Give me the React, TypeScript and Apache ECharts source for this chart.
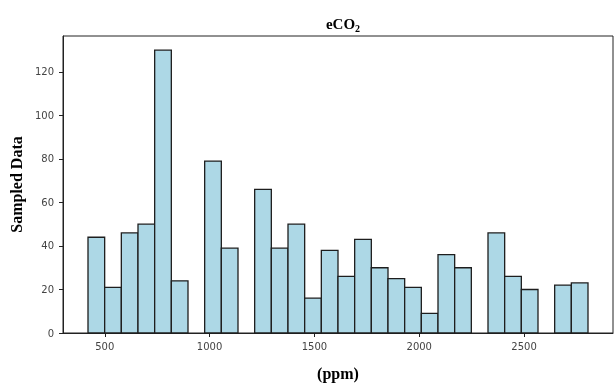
import React, { useEffect, useRef } from "react";
import * as echarts from "echarts";

// Histogram of eCO2 (ppm): 30 equal bins
const binStart = 420;
const binWidth = 79.5;
const counts = [44, 21, 46, 50, 130, 24, 0, 79, 39, 0, 66, 39, 50, 16, 38, 26, 43, 30, 25, 21, 9, 36, 30, 0, 46, 26, 20, 0, 22, 23];
const xTicks = [500, 1000, 1500, 2000, 2500];
const yTicks = [0, 20, 40, 60, 80, 100, 120];

export default function App() {
  const ref = useRef<HTMLDivElement>(null);
  useEffect(() => {
    if (!ref.current) return;
    const chart = echarts.init(ref.current, null, { renderer: "svg" });
    const data = counts.map((c, i) => [binStart + i * binWidth, binStart + (i + 1) * binWidth, c]);
    const xMin = binStart - 0.05 * binWidth * counts.length;
    const xMax = binStart + binWidth * counts.length * 1.05;
    const tickFont = { fontFamily: "DejaVu Sans", fontSize: 10, color: "#444" };
    chart.setOption({
      animation: false,
      title: {
        text: "{a|eCO}{b|2}",
        left: 338,
        top: 10,
        textAlign: "center",
        textStyle: {
          rich: {
            a: { fontFamily: "Liberation Serif", fontWeight: "bold", fontSize: 15, color: "#000" },
            b: { fontFamily: "Liberation Serif", fontWeight: "bold", fontSize: 10, color: "#000", verticalAlign: "bottom", padding: [8, 0, 0, 0] },
          },
        },
      },
      grid: { left: 63, right: 1, top: 36, bottom: 50, show: true, borderColor: "#222", borderWidth: 1, backgroundColor: "transparent" },
      xAxis: {
        type: "value",
        min: xMin,
        max: xMax,
        name: "(ppm)",
        nameLocation: "middle",
        nameGap: 32,
        nameTextStyle: { fontFamily: "Liberation Serif", fontWeight: "bold", fontSize: 16, color: "#000" },
        axisLine: { show: true, onZero: false, lineStyle: { color: "#222", width: 1 } },
        axisTick: { show: true, length: 4, lineStyle: { color: "#222" }, customValues: xTicks },
        axisLabel: { ...tickFont, margin: 8, customValues: xTicks, formatter: (v: number) => String(v) },
        splitLine: { show: false },
      },
      yAxis: {
        type: "value",
        min: 0,
        max: 136.5,
        name: "Sampled Data",
        nameLocation: "middle",
        nameGap: 39,
        nameRotate: 90,
        nameTextStyle: { fontFamily: "Liberation Serif", fontWeight: "bold", fontSize: 16, color: "#000" },
        axisLine: { show: true, lineStyle: { color: "#222", width: 1 } },
        axisTick: { show: true, length: 4, lineStyle: { color: "#222" }, customValues: yTicks },
        axisLabel: { ...tickFont, margin: 9, customValues: yTicks, formatter: (v: number) => String(v) },
        splitLine: { show: false },
      },
      series: [
        {
          type: "custom",
          data,
          encode: { x: [0, 1], y: 2 },
          renderItem: (params: any, api: any) => {
            const h = api.value(2);
            if (!h) return null;
            const p0 = api.coord([api.value(0), 0]);
            const p1 = api.coord([api.value(1), h]);
            return {
              type: "rect",
              shape: { x: p0[0], y: p1[1], width: p1[0] - p0[0], height: p0[1] - p1[1] },
              style: { fill: "#ADD8E6", stroke: "#1e1e1e", lineWidth: 1.3 },
            };
          },
        },
      ],
    });
    return () => chart.dispose();
  }, []);
  return <div ref={ref} style={{ position: "fixed", left: 0, top: 0, width: 614, height: 386 }} />;
}
